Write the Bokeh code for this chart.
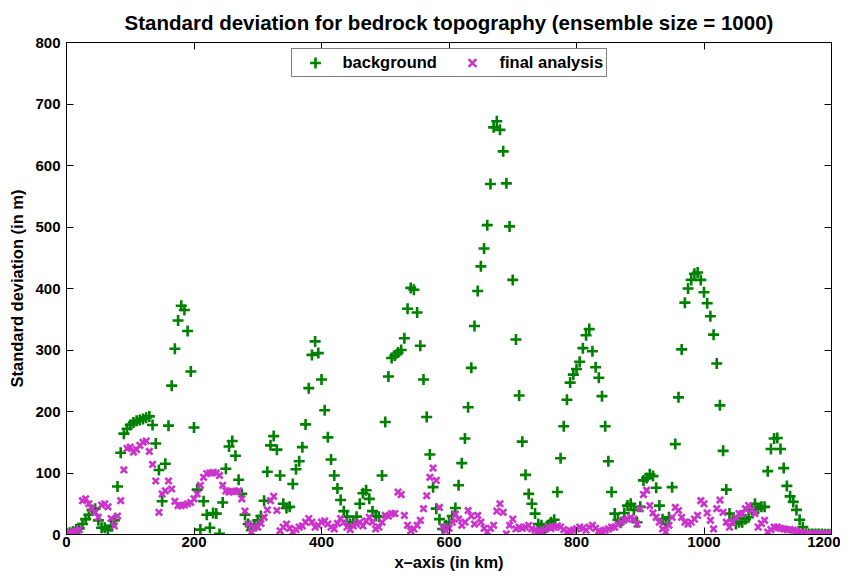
from bokeh.plotting import figure
from bokeh.models import LinearAxis, Range1d, Legend, LegendItem, FixedTicker, ColumnDataSource
from bokeh.embed import file_html
from bokeh.resources import INLINE

# x positions (km), 5 km grid
x_km = list(range(0, 1201, 5))

background = [
    2, 3, 5, 8, 10, 17, 25, 32, 40, 42,
    23, 11, 11, 7, 14, 23, 78, 133, 164, 172,
    178, 182, 185, 186, 188, 190, 192, 178, 148, 105,
    54, 115, 177, 242, 302, 348, 372, 365, 331, 265,
    174, 73, 8, 54, 32, 11, 35, 34, 1, 52,
    107, 143, 152, 128, 89, 66, 32, 17, 7, 15,
    23, 30, 55, 102, 145, 160, 138, 96, 50, 43,
    45, 82, 106, 119, 142, 179, 238, 292, 314, 295,
    252, 202, 158, 122, 96, 75, 56, 38, 29, 17,
    20, 29, 50, 67, 72, 58, 38, 30, 29, 96,
    183, 257, 287, 291, 296, 300, 319, 367, 401, 398,
    361, 307, 252, 191, 130, 77, 42, 25, 9, 15,
    20, 30, 43, 80, 116, 156, 207, 271, 339, 396,
    436, 465, 503, 570, 662, 672, 658, 623, 571, 501,
    414, 317, 226, 151, 97, 66, 50, 34, 17, 15,
    10, 15, 20, 24, 69, 124, 176, 219, 247, 260,
    269, 281, 303, 324, 334, 298, 272, 255, 225, 176,
    119, 69, 34, 24, 20, 35, 47, 50, 40, 20,
    45, 88, 92, 98, 95, 76, 47, 25, 17, 28,
    77, 147, 223, 301, 377, 400, 414, 424, 426, 414,
    394, 376, 355, 325, 278, 210, 136, 73, 34, 23,
    17, 20, 20, 25, 28, 40, 50, 42, 45, 45,
    103, 139, 156, 157, 139, 108, 79, 62, 53, 40,
    24, 12, 1, 1, 1, 1, 1, 1, 0.5, 0.5,
    0.5,
]

final_analysis = [
    2, 3, 4, 6, 8, 55, 58, 50, 42, 36,
    28, 48, 50, 45, 26, 14, 30, 55, 105, 140,
    142, 134, 138, 145, 150, 152, 135, 114, 87, 36,
    66, 71, 87, 74, 54, 47, 47, 48, 50, 52,
    58, 66, 80, 93, 99, 100, 101, 100, 96, 80,
    71, 69, 70, 70, 71, 58, 38, 17, 4, 12,
    12, 18, 28, 40, 55, 62, 39, 6, 12, 17,
    10, 4, 8, 12, 14, 20, 26, 20, 12, 15,
    20, 22, 17, 12, 9, 18, 26, 20, 12, 8,
    14, 17, 20, 14, 22, 28, 20, 9, 12, 20,
    31, 30, 34, 34, 69, 65, 31, 15, 6, 9,
    15, 23, 42, 63, 93, 108, 88, 44, 12, 6,
    10, 20, 33, 25, 15, 20, 39, 30, 17, 31,
    20, 10, 4, 10, 15, 38, 50, 36, 1, 15,
    25, 9, 12, 10, 12, 15, 9, 7, 5, 4,
    8, 12, 10, 12, 14, 12, 8, 4, 6, 7,
    9, 12, 10, 7, 12, 15, 10, 6, 5, 7,
    9, 12, 12, 16, 20, 24, 25, 28, 25, 17,
    42, 65, 72, 47, 35, 28, 20, 9, 4, 15,
    28, 44, 39, 28, 20, 17, 20, 25, 31, 55,
    50, 35, 23, 9, 42, 56, 36, 20, 12, 20,
    28, 34, 34, 42, 47, 40, 34, 12, 18, 23,
    4, 8, 12, 12, 10, 9, 8, 8, 7, 5,
    4, 2, 1, 1, 1, 1, 1, 1, 1, 1,
    1,
]

x_ticks = [0, 200, 400, 600, 800, 1000, 1200]
y_ticks = [0, 100, 200, 300, 400, 500, 600, 700, 800]

assert len(background) == len(x_km) and len(final_analysis) == len(x_km)

FONT = "Liberation Sans"
GREEN = "#008000"
MAGENTA = "#cc33cc"

src = ColumnDataSource(dict(x=x_km, bg=background, fa=final_analysis))

p = figure(width=840, height=576, output_backend="svg", toolbar_location=None,
           x_range=Range1d(0, 1200), y_range=Range1d(0, 800),
           min_border_left=66, min_border_right=9, min_border_top=42, min_border_bottom=42,
           background_fill_color="white", border_fill_color="white")

p.title.text = "Standard deviation for bedrock topography (ensemble size = 1000)"
p.title.align = "center"
p.title.text_font = FONT
p.title.text_font_style = "bold"
p.title.text_font_size = "20.5px"
p.title.text_color = "black"
p.title.standoff = 17

p.xgrid.visible = False
p.ygrid.visible = False
p.outline_line_color = "black"
p.outline_line_width = 1

def style_axis(ax, ticks, show_labels=True):
    ax.ticker = FixedTicker(ticks=ticks)
    ax.major_tick_in = 7
    ax.major_tick_out = 0
    ax.minor_tick_line_color = None
    ax.axis_line_color = "black"
    ax.major_tick_line_color = "black"
    ax.major_label_text_font = FONT
    ax.major_label_text_font_style = "bold"
    ax.major_label_text_font_size = "15px"
    ax.major_label_text_color = "black"
    ax.axis_label_text_font = FONT
    ax.axis_label_text_font_style = "bold"
    ax.axis_label_text_font_size = "16.5px"
    ax.axis_label_text_color = "black"
    if not show_labels:
        ax.major_label_text_color = None
        ax.major_label_text_font_size = "0px"

style_axis(p.xaxis[0], x_ticks)
style_axis(p.yaxis[0], y_ticks)
p.xaxis[0].axis_label = "x\u2013axis (in km)"
p.yaxis[0].axis_label = "Standard deviation (in m)"
p.xaxis[0].major_label_standoff = 2
p.xaxis[0].axis_label_standoff = 3
p.yaxis[0].major_label_standoff = 6
p.yaxis[0].axis_label_standoff = 6

top_axis = LinearAxis()
style_axis(top_axis, x_ticks, show_labels=False)
p.add_layout(top_axis, "above")
right_axis = LinearAxis()
style_axis(right_axis, y_ticks, show_labels=False)
p.add_layout(right_axis, "right")

r_bg = p.scatter("x", "bg", source=src, marker="cross", size=11, line_width=2.6,
                 line_color=GREEN, fill_color=None)
r_fa = p.scatter("x", "fa", source=src, marker="x", size=9, line_width=2.6,
                 line_color=MAGENTA, fill_color=None)

legend = Legend(items=[LegendItem(label="background", renderers=[r_bg]),
                       LegendItem(label="final analysis", renderers=[r_fa])],
                orientation="horizontal", location="top_center")
legend.label_text_font = FONT
legend.label_text_font_style = "bold"
legend.label_text_font_size = "16.5px"
legend.label_text_color = "black"
legend.border_line_color = "black"
legend.border_line_width = 1
legend.background_fill_alpha = 1
legend.margin = 6
legend.padding = 0
legend.spacing = 0
legend.glyph_width = 46
legend.glyph_height = 27
legend.label_height = 20
legend.label_width = 106
legend.label_standoff = 5
p.add_layout(legend, "center")

open("out.html", "w").write(file_html(p, INLINE))
